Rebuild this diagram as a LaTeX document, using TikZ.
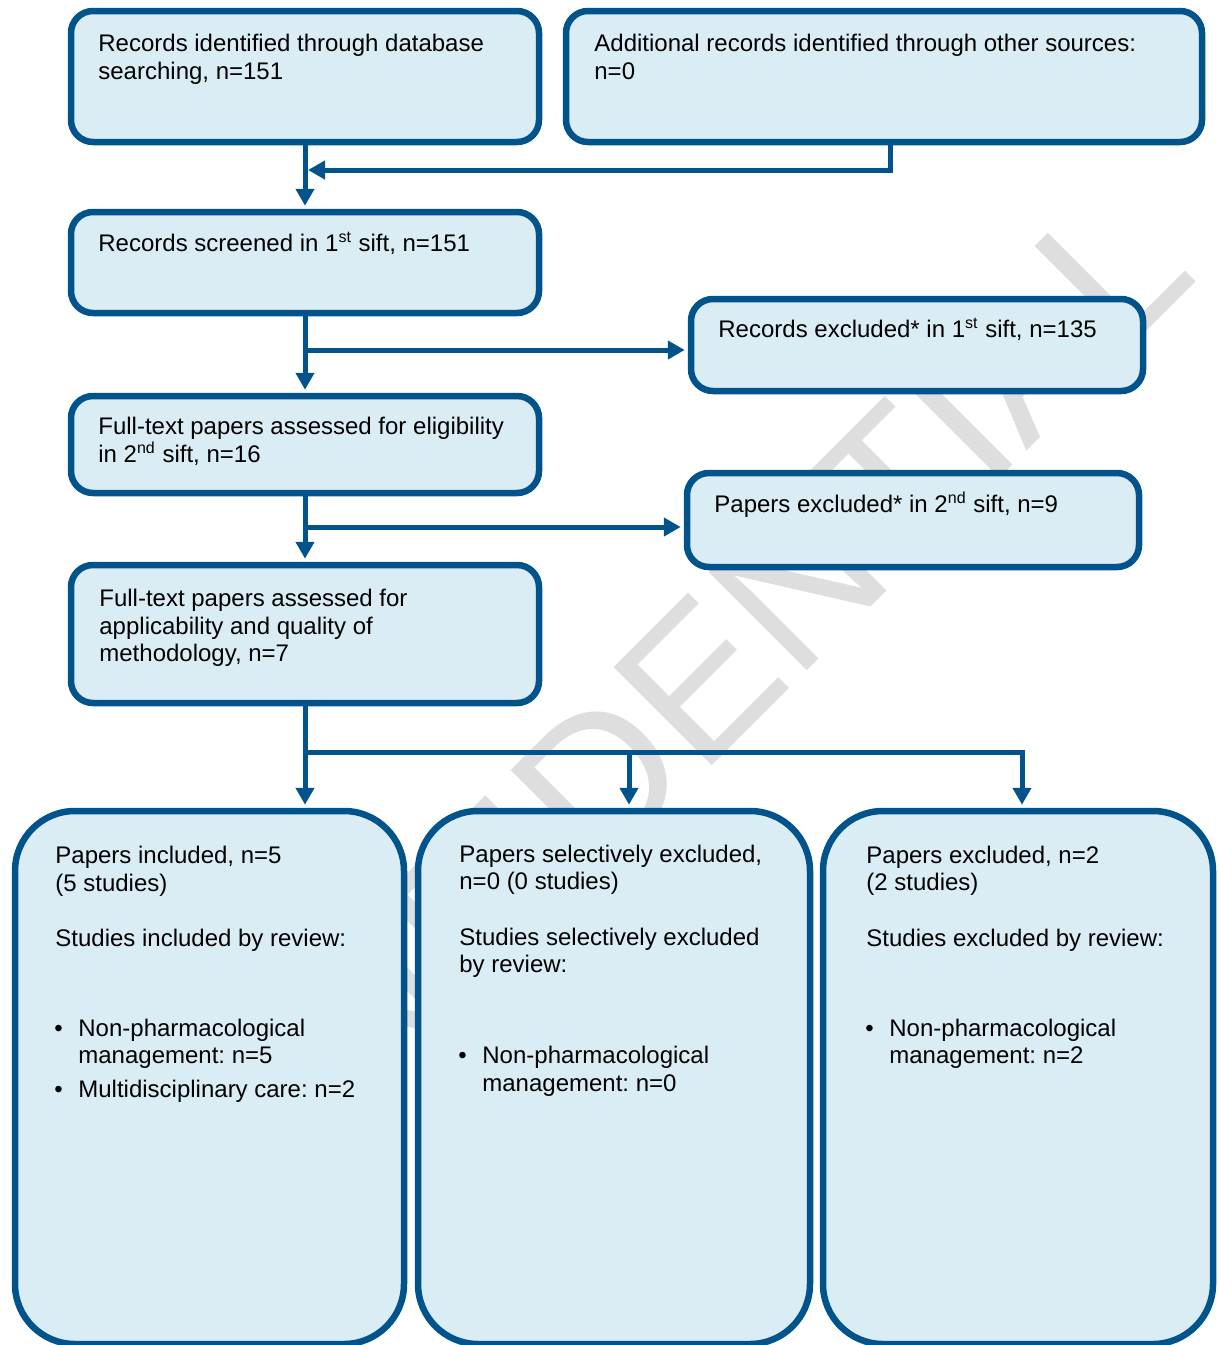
\documentclass[tikz,border=0pt]{standalone}
\usepackage{fontspec}
\setmainfont{Liberation Sans}
\usetikzlibrary{arrows.meta,fit}
\definecolor{bdr}{RGB}{0,84,139}
\definecolor{bfill}{RGB}{219,237,244}
\definecolor{wmgray}{RGB}{222,222,222}
\frenchspacing
\begin{document}
\begin{tikzpicture}[x=0.5pt,y=-0.5pt,
  box/.style={draw=bdr, fill=bfill, line width=3.25pt, rounded corners=11pt, inner sep=0pt},
  bigbox/.style={box, rounded corners=30pt},
  conn/.style={draw=bdr, line width=2.5pt, line join=miter},
  arr/.style={conn, -{Triangle[length=8.5pt,width=9pt]}, shorten >=1.5pt},
  txt/.style={anchor=base west, inner sep=0pt, font=\fontsize{12}{14}\selectfont},
  wmstyle/.style={anchor=base, inner sep=0pt, rotate=45, text=wmgray, font=\fontsize{101}{101}\selectfont}]
\useasboundingbox (0,0) rectangle (1219,1345);
% watermark
\node[wmstyle] (wmark) at (677,801) {CONFIDENTIAL};
% boxes
\node[box, fit={(71,11) (539,142)}] (A) {};
\node[box, fit={(566,11) (1202,142)}] (B) {};
\node[box, fit={(71,212) (539,313)}] (C) {};
\node[box, fit={(691,299) (1143,391)}] (D) {};
\node[box, fit={(71,396) (539,493)}] (E) {};
\node[box, fit={(687,473) (1139,567)}] (F) {};
\node[box, fit={(71,565) (539,703)}] (G) {};
\node[bigbox, fit={(15,811) (404,1344)}] (H) {};
\node[bigbox, fit={(418,811) (810,1344)}] (I) {};
\node[bigbox, fit={(823,811) (1213,1344)}] (J) {};
% texts
\node[txt] (tA1) at (98,51) {Records identified through database};
\node[txt] (tA2) at (98,79) {searching, n=151};
\node[txt] (tB1) at (594,51) {Additional records identified through other sources:};
\node[txt] (tB2) at (594,79) {n=0};
\node[txt] (tC1) at (98,251) {Records screened in 1\textsuperscript{st} sift, n=151};
\node[txt] (tD1) at (718,337) {Records excluded* in 1\textsuperscript{st} sift, n=135};
\node[txt] (tE1) at (98,434) {Full-text papers assessed for eligibility};
\node[txt] (tE2) at (98,462) {in 2\textsuperscript{nd} sift, n=16};
\node[txt] (tF1) at (714,512) {Papers excluded* in 2\textsuperscript{nd} sift, n=9};
\node[txt] (tG1) at (99,606) {Full-text papers assessed for};
\node[txt] (tG2) at (99,634) {applicability and quality of};
\node[txt] (tG3) at (99,661) {methodology, n=7};
% bottom left
\node[txt] (tH1) at (55,863) {Papers included, n=5};
\node[txt] (tH2) at (55,891) {(5 studies)};
\node[txt] (tH3) at (55,946) {Studies included by review:};
\node[txt] (bH1) at (54,1036) {\textbullet};
\node[txt] (tH4) at (78,1036) {Non-pharmacological};
\node[txt] (tH5) at (78,1063) {management: n=5};
\node[txt] (bH2) at (54,1097) {\textbullet};
\node[txt] (tH6) at (78,1097) {Multidisciplinary care: n=2};
% bottom middle
\node[txt] (tI1) at (459,862) {Papers selectively excluded,};
\node[txt] (tI2) at (459,889) {n=0 (0 studies)};
\node[txt] (tI3) at (459,945) {Studies selectively excluded};
\node[txt] (tI4) at (459,972) {by review:};
\node[txt] (bI1) at (458,1063) {\textbullet};
\node[txt] (tI5) at (482,1063) {Non-pharmacological};
\node[txt] (tI6) at (482,1091) {management: n=0};
% bottom right
\node[txt] (tJ1) at (866,863) {Papers excluded, n=2};
\node[txt] (tJ2) at (866,890) {(2 studies)};
\node[txt] (tJ3) at (866,946) {Studies excluded by review:};
\node[txt] (bJ1) at (865,1036) {\textbullet};
\node[txt] (tJ4) at (889,1036) {Non-pharmacological};
\node[txt] (tJ5) at (889,1063) {management: n=2};
% connectors
\coordinate (kB) at (890,170);
\coordinate (kC) at (305,350);
\coordinate (kE) at (305,527);
\coordinate (kG) at (305,752);
\coordinate (kI) at (629,752);
\coordinate (kJ) at (1022,752);
\draw[arr] (A.south) -- (C.north);
\draw[arr] (B.south -| kB) -- (kB) -- (kB -| A.south);
\draw[arr] (C.south) -- (E.north);
\draw[arr] (kC) -- (kC -| D.west);
\draw[arr] (E.south) -- (G.north);
\draw[arr] (kE) -- (kE -| F.west);
\draw[conn] (G.south) -- (kG);
\draw[arr] (kG) -- (kG |- H.north);
\draw[arr] (kI) -- (kI |- I.north);
\draw[arr] (kG) -- (kJ) -- (kJ |- J.north);
\end{tikzpicture}
\end{document}
